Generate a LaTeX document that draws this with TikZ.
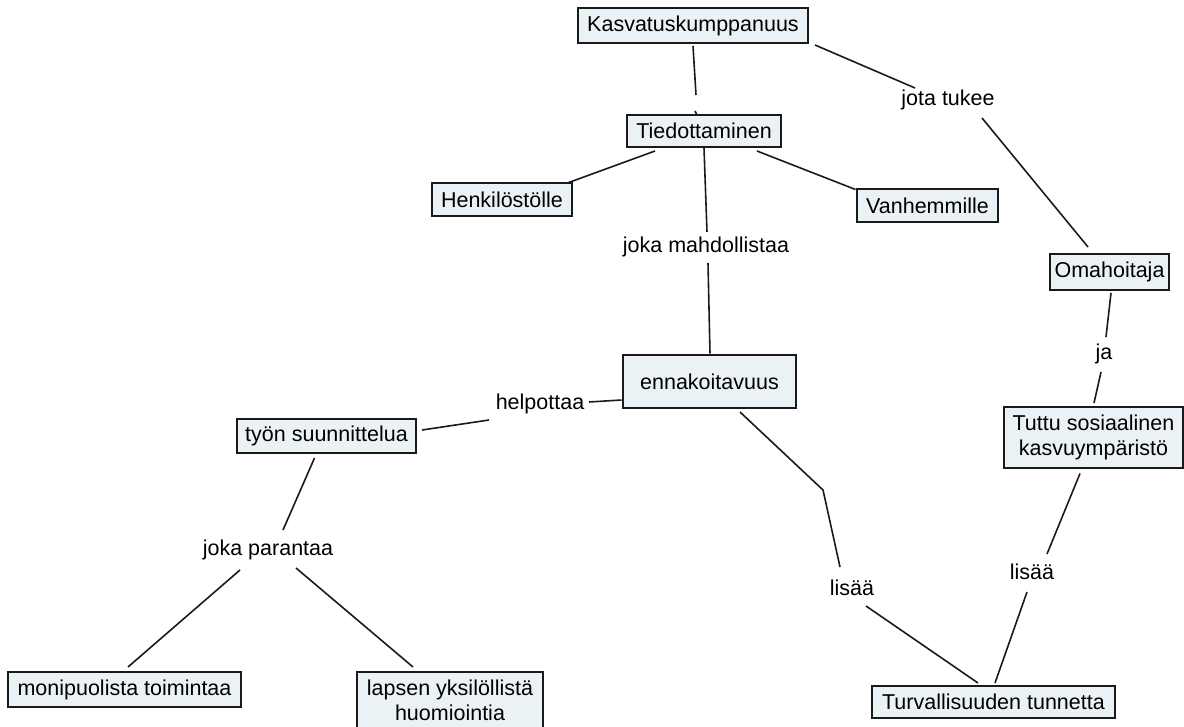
\documentclass[tikz,border=0pt]{standalone}
\usepackage{fontspec}
\setmainfont{Liberation Sans}
\definecolor{boxfill}{HTML}{EBF2F6}
\definecolor{ink}{HTML}{1A1A1A}
\newcommand\cmfont{\fontsize{21.5}{25}\selectfont}
\begin{document}
\begin{tikzpicture}[x=1pt,y=-1pt,
  box/.style={draw=ink, line width=1.8pt, fill=boxfill, inner sep=0pt, align=center, font=\cmfont, text=black},
  lbl/.style={inner sep=0pt, font=\cmfont, text=black},
  conn/.style={draw=ink, line width=1.6pt}]
\useasboundingbox (0,0) rectangle (1184,727);
% concepts
\node[box, minimum width=230pt, minimum height=35pt] (K) at (693,25.5) {Kasvatuskumppanuus};
\node[box, minimum width=154pt, minimum height=32pt] (T) at (704,131) {Tiedottaminen};
\node[box, minimum width=140pt, minimum height=33pt] (H) at (502,199.5) {Henkilöstölle};
\node[box, minimum width=141pt, minimum height=33pt] (V) at (927.5,205.5) {Vanhemmille};
\node[box, minimum width=119pt, minimum height=36pt] (O) at (1109.5,272) {Omahoitaja};
\node[box, minimum width=179pt, minimum height=61pt] (Tu) at (1093.5,437.5) {Tuttu sosiaalinen\\ kasvuympäristö};
\node[box, minimum width=173pt, minimum height=53pt] (E) at (709.5,381.5) {ennakoitavuus};
\node[box, minimum width=179pt, minimum height=34pt] (W) at (326.5,436) {työn suunnittelua};
\node[box, minimum width=233pt, minimum height=35pt] (M) at (124.5,689.5) {monipuolista toimintaa};
\node[box, minimum width=186pt, minimum height=57pt] (L) at (450,700.5) {lapsen yksilöllistä\\ huomiointia};
\node[box, minimum width=243pt, minimum height=32pt] (Tv) at (993.5,702) {Turvallisuuden tunnetta};
% linking phrases
\node[lbl] (jt) at (948,100) {jota tukee};
\node[lbl] (jm) at (706,247) {joka mahdollistaa};
\node[lbl] (ja) at (1104,354) {ja};
\node[lbl] (hp) at (540,404) {helpottaa};
\node[lbl] (jp) at (268,550) {joka parantaa};
\node[lbl] (l1) at (852,588) {lisää};
\node[lbl] (l2) at (1032,572) {lisää};
\coordinate (bend) at (823,490);
% connectors
\draw[conn] ([shift={(0,20.5)}]K.center) -- ([shift={(-8,-36)}]T.center);
\draw[conn] ([shift={(-9,-20)}]T.center) -- ([shift={(-7,-16)}]T.center);
\draw[conn] ([shift={(122,19.5)}]K.center) -- ([shift={(-33,-12)}]jt.center);
\draw[conn] ([shift={(34,18)}]jt.center) -- ([shift={(-21.5,-25)}]O.center);
\draw[conn] ([shift={(-49,20)}]T.center) -- ([shift={(64,-16)}]H.center);
\draw[conn] ([shift={(53,20)}]T.center) -- ([shift={(-72,-16)}]V.center);
\draw[conn] ([shift={(0,17)}]T.center) -- ([shift={(1,-15)}]jm.center);
\draw[conn] ([shift={(2,16)}]jm.center) -- ([shift={(0.5,-28)}]E.center);
\draw[conn] ([shift={(1.5,21)}]O.center) -- ([shift={(2,-17)}]ja.center);
\draw[conn] ([shift={(-3,18)}]ja.center) -- ([shift={(0.5,-34.5)}]Tu.center);
\draw[conn] ([shift={(-88,18.5)}]E.center) -- ([shift={(49,-2)}]hp.center);
\draw[conn] ([shift={(-51,16)}]hp.center) -- ([shift={(95.5,-6)}]W.center);
\draw[conn] ([shift={(-12,22)}]W.center) -- ([shift={(15,-20)}]jp.center);
\draw[conn] ([shift={(-28,20)}]jp.center) -- ([shift={(3.5,-22.5)}]M.center);
\draw[conn] ([shift={(28,18)}]jp.center) -- ([shift={(-37,-33.5)}]L.center);
\draw[conn] ([shift={(30.5,30.5)}]E.center) -- (bend) -- ([shift={(-12,-21)}]l1.center);
\draw[conn] ([shift={(14,18)}]l1.center) -- ([shift={(-15.5,-19)}]Tv.center);
\draw[conn] ([shift={(-13.5,36)}]Tu.center) -- ([shift={(15,-18)}]l2.center);
\draw[conn] ([shift={(-5,20)}]l2.center) -- ([shift={(1.5,-19)}]Tv.center);
\end{tikzpicture}
\end{document}
